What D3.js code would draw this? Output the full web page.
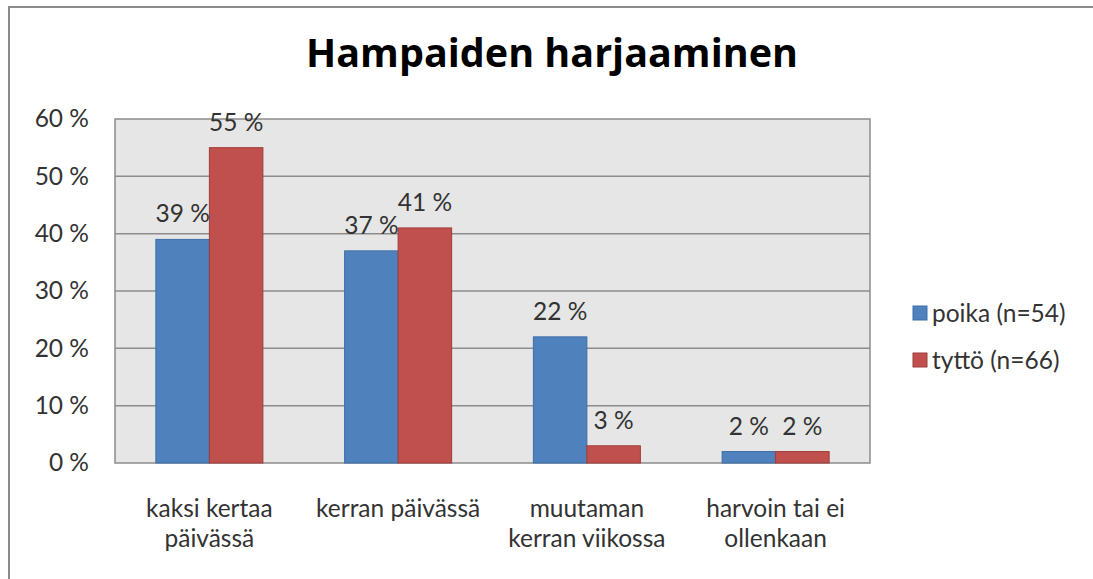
<!DOCTYPE html>
<html>
<head>
<meta charset="utf-8">
<script src="https://cdn.jsdelivr.net/npm/d3@7"></script>
<style>
  body { margin: 0; background: #fff; }
  text { font-family: Lato, "Open Sans", sans-serif; }
</style>
</head>
<body>
<div id="chart"></div>
<script>
const title = "Hampaiden harjaaminen"
const categories = [["kaksi kertaa", "päivässä"], ["kerran päivässä"], ["muutaman", "kerran viikossa"], ["harvoin tai ei", "ollenkaan"]]
const series = ["poika (n=54)", "tyttö (n=66)"]
const poika = [39, 37, 22, 2]
const tytto = [55, 41, 3, 2]
const yTicks = [0, 10, 20, 30, 40, 50, 60]

const width = 1093
const height = 579
const colors = ["#4f81bd", "#c0504d"]
const strokes = ["#3d6ea8", "#a03c39"]
const fontSize = 24.5

const svg = d3.select("#chart").append("svg").attr("width", width).attr("height", height)

const margin = ({top: 119, right: 223, bottom: 116, left: 115})

// outer frame, runs off the right and bottom edges
svg.append("rect")
  .attr("x", 9).attr("y", 7)
  .attr("width", width + 20).attr("height", height + 20)
  .attr("fill", "#fff")
  .attr("stroke", "#8c8c8c")
  .attr("stroke-width", 2)

const catKeys = categories.map(c => c.join(" "))

const xscale = d3.scaleBand()
  .domain(catKeys)
  .range([margin.left, width - margin.right])

const inner = d3.scaleBand()
  .domain(series)
  .range([xscale.bandwidth() * 0.2165, xscale.bandwidth() * 0.7835])

const yscale = d3.scaleLinear()
  .domain([0, 60])
  .range([height - margin.bottom, margin.top])

// plot background
svg.append("rect")
  .attr("x", margin.left).attr("y", margin.top)
  .attr("width", xscale.range()[1] - margin.left)
  .attr("height", yscale(0) - margin.top)
  .attr("fill", "#e6e6e6")
  .attr("stroke", "#8c8c8c")
  .attr("stroke-width", 1.5)

// gridlines
svg.append("g")
  .selectAll("line")
  .data(yTicks.slice(1, -1))
  .join("line")
  .attr("x1", margin.left).attr("x2", xscale.range()[1])
  .attr("y1", d => yscale(d)).attr("y2", d => yscale(d))
  .attr("stroke", "#8c8c8c")
  .attr("stroke-width", 1.5)

// y axis labels
const yAxis = g => g
  .attr("transform", `translate(${margin.left},0)`)
  .call(d3.axisLeft(yscale).tickValues(yTicks).tickFormat(d => d + " %").tickSize(0).tickPadding(26))
  .call(g => g.select(".domain").remove())
  .call(g => g.selectAll("text")
    .style("font-family", "Lato, sans-serif")
    .attr("font-size", fontSize)
    .attr("fill", "#333"))

svg.append("g").call(yAxis)

// bars
const rows = catKeys.map((k, i) => ({key: k, values: [poika[i], tytto[i]]}))

const groups = svg.append("g")
  .selectAll("g")
  .data(rows)
  .join("g")
  .attr("transform", d => `translate(${xscale(d.key)},0)`)

groups.selectAll("rect")
  .data(d => d.values.map((v, j) => ({s: series[j], v: v, j: j})))
  .join("rect")
  .attr("x", d => inner(d.s))
  .attr("y", d => yscale(d.v))
  .attr("width", inner.bandwidth())
  .attr("height", d => yscale(0) - yscale(d.v))
  .attr("fill", d => colors[d.j])
  .attr("stroke", d => strokes[d.j])
  .attr("stroke-width", 1)

groups.selectAll("text")
  .data(d => d.values.map((v, j) => ({s: series[j], v: v, j: j})))
  .join("text")
  .attr("x", d => inner(d.s) + inner.bandwidth() / 2)
  .attr("y", d => yscale(d.v) - 17)
  .attr("text-anchor", "middle")
  .attr("font-size", fontSize)
  .attr("fill", "#333")
  .text(d => d.v + " %")

// category labels
svg.append("g")
  .selectAll("text")
  .data(categories)
  .join("text")
  .attr("x", (d, i) => xscale(catKeys[i]) + xscale.bandwidth() / 2)
  .attr("y", 517)
  .attr("text-anchor", "middle")
  .attr("font-size", fontSize)
  .attr("fill", "#333")
  .selectAll("tspan")
  .data(d => d)
  .join("tspan")
  .attr("x", function() { return d3.select(this.parentNode).attr("x") })
  .attr("dy", (d, i) => i === 0 ? 0 : 30)
  .text(d => d)

// title, sized so it spans the same width as the original
const titleText = svg.append("text")
  .attr("x", 552)
  .attr("y", 67)
  .attr("text-anchor", "middle")
  .style("font-family", "'Open Sans', sans-serif")
  .attr("font-size", 34)
  .attr("font-weight", "bold")
  .attr("fill", "#000")
  .text(title)
const tw = titleText.node().getComputedTextLength()
titleText.attr("font-size", 34 * 492 / tw)

// legend
const legend = svg.append("g")
  .selectAll("g")
  .data(series)
  .join("g")
  .attr("transform", (d, i) => `translate(913,${306 + i * 47})`)

legend.append("rect")
  .attr("width", 14).attr("height", 14)
  .attr("fill", (d, i) => colors[i])
  .attr("stroke", (d, i) => strokes[i])

legend.append("text")
  .attr("x", 19).attr("y", 16)
  .attr("font-size", fontSize)
  .attr("fill", "#333")
  .text(d => d)
</script>
</body>
</html>
